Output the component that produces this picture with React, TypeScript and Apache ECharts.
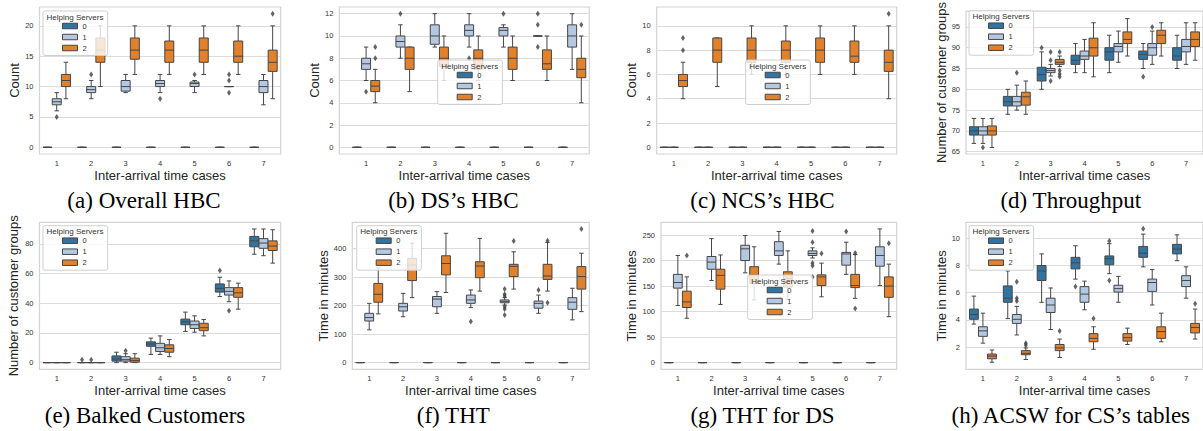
import React, { useEffect, useRef } from "react";
import * as echarts from "echarts";

// ---------- categories / hues ----------
const CATEGORIES = ["1", "2", "3", "4", "5", "6", "7"];
const HUES = ["0", "1", "2"];
const X_TITLE = "Inter-arrival time cases";

// ---------- (a) Overall HBC : [min, Q1, median, Q3, max] ----------
const overallH0 = [[0, 0, 0, 0, 0], [0, 0, 0, 0, 0], [0, 0, 0, 0, 0], [0, 0, 0, 0, 0], [0, 0, 0, 0, 0], [0, 0, 0, 0, 0], [0, 0, 0, 0, 0]];
const overallH1 = [[6, 7, 7.5, 8, 9], [8, 9, 9.5, 10, 11], [9, 9.25, 10, 11, 12], [9, 10, 10.5, 11, 12], [9, 10, 10.5, 10.75, 11], [10, 10, 10, 10, 10], [7, 9, 10, 11, 12]];
const overallH2 = [[8, 10, 11, 12, 14], [10, 14, 16, 18, 20], [12, 14.5, 16, 18, 20], [12, 14, 16, 17.5, 20], [12, 14, 16, 18, 20], [12, 14, 15, 17.5, 20], [8, 12.5, 14, 16, 20]];
// outliers: [case, hue, value]
const overallOut = [[1, 1, 5], [2, 1, 12], [4, 1, 8], [5, 1, 12], [6, 1, 12], [6, 1, 11], [6, 1, 9], [7, 2, 22]];
const overallTicks = [0, 5, 10, 15, 20];

// ---------- (b) DS's HBC ----------
const dsH0 = [[0, 0, 0, 0, 0], [0, 0, 0, 0, 0], [0, 0, 0, 0, 0], [0, 0, 0, 0, 0], [0, 0, 0, 0, 0], [0, 0, 0, 0, 0], [0, 0, 0, 0, 0]];
const dsH1 = [[6, 7, 7.5, 8, 9], [8, 9, 9.5, 10, 11], [9, 9.25, 10, 11, 12], [9, 10, 10.5, 11, 12], [9, 10, 10.5, 10.75, 11], [10, 10, 10, 10, 10], [7, 9, 10, 11, 12]];
const dsH2 = [[4, 5, 5.5, 6, 7], [5, 7, 8, 9, 9], [6, 7.25, 8, 9, 10], [6, 7, 8, 8.75, 10], [6, 7, 8, 9, 10], [6, 7, 7.5, 8.75, 10], [4, 6.25, 7, 8, 10]];
const dsOut = [[1, 1, 5], [1, 2, 9], [1, 2, 8], [2, 1, 12], [4, 1, 8], [5, 1, 12], [6, 1, 12], [6, 1, 11], [6, 1, 9], [7, 2, 11]];
const dsTicks = [0, 2, 4, 6, 8, 10, 12];

// ---------- (c) NCS's HBC ----------
const ncsH0 = [[0, 0, 0, 0, 0], [0, 0, 0, 0, 0], [0, 0, 0, 0, 0], [0, 0, 0, 0, 0], [0, 0, 0, 0, 0], [0, 0, 0, 0, 0], [0, 0, 0, 0, 0]];
const ncsH1 = [[0, 0, 0, 0, 0], [0, 0, 0, 0, 0], [0, 0, 0, 0, 0], [0, 0, 0, 0, 0], [0, 0, 0, 0, 0], [0, 0, 0, 0, 0], [0, 0, 0, 0, 0]];
const ncsH2 = [[4, 5, 5.5, 6, 7], [5, 7, 8, 9, 9], [6, 7, 8, 9, 10], [6, 7, 8, 8.75, 10], [6, 7, 8, 9, 10], [6, 7, 7.5, 8.75, 10], [4, 6.25, 7, 8, 10]];
const ncsOut = [[1, 2, 8], [1, 2, 9], [7, 2, 11]];
const ncsTicks = [0, 2, 4, 6, 8, 10];

// ---------- (d) Throughput ----------
const thrH0 = [[67, 69, 70, 71, 73], [74, 76, 77, 78.3, 80], [80, 82, 83.5, 85.3, 89], [84, 86, 87, 88.2, 91], [84, 87, 89, 90, 93], [85, 87.2, 88.4, 89.2, 91], [85, 87, 88, 90, 93]];
const thrH1 = [[67, 69, 70, 71, 73], [75, 76, 77, 78.3, 81], [83.2, 84, 84.5, 85, 86], [84, 87.2, 88, 89.2, 92], [86.5, 89, 90.3, 91, 94], [86, 88.2, 90, 91, 94], [86, 89, 90.3, 92, 96]];
const thrH2 = [[66, 69, 70, 71.2, 73], [74, 76.2, 78.2, 79.3, 82], [85.5, 86, 86.5, 87.2, 88], [83, 88, 90, 92.3, 96], [88, 91, 92, 93.8, 97], [88, 91, 93, 94.2, 96], [87, 90.3, 92, 93.8, 96]];
const thrOut = [[1, 1, 66], [2, 1, 84], [3, 0, 90], [3, 1, 87], [3, 1, 89], [3, 1, 82], [3, 2, 89], [3, 2, 84.5], [3, 2, 83.7], [3, 2, 83], [6, 0, 83], [6, 1, 95]];
const thrTicks = [65, 70, 75, 80, 85, 90, 95];

// ---------- (e) Balked Customers ----------
const balkH0 = [[0, 0, 0, 0, 0], [0, 0, 0, 0, 0], [0, 1, 2.5, 4.5, 7], [5.5, 11, 12.5, 14, 16.5], [21, 25.5, 27.5, 29.3, 34], [44.5, 47.5, 50, 53, 57.5], [73, 78, 82, 85, 90]];
const balkH1 = [[0, 0, 0, 0, 0], [0, 0, 0, 0, 0], [0, 1, 2, 4, 6], [5.5, 7.5, 10, 13, 18], [20.5, 23, 25.5, 28, 31.5], [41, 45.5, 48, 50.5, 55], [72, 77, 80.5, 83.5, 90]];
const balkH2 = [[0, 0, 0, 0, 0], [0, 0, 0, 0, 0], [0, 0.3, 1.5, 3, 6], [4, 7, 9.5, 12, 15.5], [18, 21.5, 23.5, 26.5, 29], [36, 44, 47, 50.5, 53.5], [67, 75.5, 78.5, 82, 89.5]];
const balkOut = [[2, 0, 2], [2, 1, 2], [3, 1, 8], [6, 0, 62], [6, 1, 35]];
const balkTicks = [0, 20, 40, 60, 80];

// ---------- (f) THT ----------
const thtH0 = [[0, 0, 0, 0, 0], [0, 0, 0, 0, 0], [0, 0, 0, 0, 0], [0, 0, 0, 0, 0], [0, 0, 0, 0, 0], [0, 0, 0, 0, 0], [0, 0, 0, 0, 0]];
const thtH1 = [[115, 146, 158, 173, 208], [161, 181, 196, 208, 243], [173, 196, 223, 232, 249], [193, 208, 220, 237, 255], [202, 210, 215, 220, 228], [173, 191, 208, 216, 237], [150, 187, 212, 228, 261]];
const thtH2 = [[171, 212, 240, 278, 333], [228, 288, 343, 366, 419], [246, 308, 348, 375, 454], [251, 298, 339, 354, 436], [258, 302, 338, 345, 389], [251, 292, 304, 345, 422], [179, 258, 302, 337, 384]];
const thtOut = [[4, 1, 144], [5, 1, 258], [5, 1, 240], [5, 1, 234], [5, 1, 196], [5, 1, 188], [5, 1, 167], [5, 2, 427], [6, 1, 255], [6, 2, 428], [6, 2, 210], [7, 2, 469]];
const thtTicks = [0, 100, 200, 300, 400];

// ---------- (g) THT for DS ----------
const dsThtH0 = [[0, 0, 0, 0, 0], [0, 0, 0, 0, 0], [0, 0, 0, 0, 0], [0, 0, 0, 0, 0], [0, 0, 0, 0, 0], [0, 0, 0, 0, 0], [0, 0, 0, 0, 0]];
const dsThtH1 = [[112, 146, 157, 173, 210], [161, 183, 197, 208, 243], [176, 200, 223, 230, 249], [193, 210, 219, 237, 257], [205, 210, 214, 219, 225], [173, 191, 213, 216, 236], [151, 189, 210, 227, 262]];
const dsThtH2 = [[87, 108, 119, 140, 168], [114, 144, 171, 183, 211], [123, 155, 172, 188, 227], [124, 148, 165, 178, 219], [129, 151, 168, 172, 195], [126, 147, 151, 173, 212], [90, 128, 150, 168, 193]];
const dsThtOut = [[1, 2, 210], [5, 1, 258], [5, 1, 236], [5, 1, 195], [5, 1, 190], [5, 1, 168], [5, 2, 214], [6, 1, 257], [6, 2, 215], [6, 2, 106], [7, 2, 234]];
const dsThtTicks = [0, 50, 100, 150, 200, 250];

// ---------- (h) ACSW for CS's tables ----------
const acswH0 = [[3.7, 4.05, 4.4, 4.8, 5.75], [4.1, 5.3, 5.6, 6.5, 7.6], [5.3, 6.9, 7.6, 8, 8.85], [7, 7.75, 8.2, 8.6, 9.45], [7.4, 8.05, 8.5, 8.7, 9.6], [7.9, 8.6, 8.9, 9.4, 10.3], [8.35, 8.85, 9.2, 9.55, 10.25]];
const acswH1 = [[2.3, 2.8, 3.2, 3.5, 4.5], [2.9, 3.75, 4.05, 4.4, 5], [3.3, 4.55, 5.1, 5.6, 6.35], [4.75, 5.3, 5.9, 6.45, 6.85], [5.3, 6.05, 6.3, 6.55, 7.2], [5.1, 6.1, 6.75, 7, 7.7], [5.6, 6.45, 6.9, 7.25, 7.9]];
const acswH2 = [[0.9, 1.15, 1.35, 1.5, 1.8], [1.1, 1.45, 1.55, 1.75, 1.95], [1.25, 1.75, 1.95, 2.2, 2.6], [1.85, 2.4, 2.65, 3, 3.5], [2.2, 2.45, 2.7, 3, 3.4], [2.4, 2.65, 3.15, 3.5, 4.5], [2.6, 3.05, 3.45, 3.75, 4.8]];
const acswOut = [[2, 1, 6.8], [2, 1, 5.6], [2, 1, 5.4], [2, 2, 2.3], [2, 2, 2.15], [3, 2, 3.2], [4, 0, 6.45], [4, 2, 4.1], [5, 0, 9.8], [5, 0, 6.9], [6, 0, 10.7], [7, 2, 5.2]];
const acswTicks = [2, 4, 6, 8, 10];

// ---------- styles ----------
const HUE_COLORS = ["#3274a1", "#b5c8e1", "#e1812c"];
const EDGE = "#464646";
const LW = 1;
const HUE_OFFSET = [-0.8 / 3, 0, 0.8 / 3];
const BOX_HALF = (0.8 / 3) * 0.98 / 2;
const CAP_HALF = BOX_HALF / 2;
const SANS = "'Liberation Sans', Arial, sans-serif";
const SERIF = "'Liberation Serif', 'Times New Roman', serif";
const TICK_COLOR = "#333";
const TITLE_COLOR = "#262626";

// ---------- layout ----------
const PANELS = [
  { boxes: [overallH0, overallH1, overallH2], out: overallOut, ticks: overallTicks, yName: "Count", caption: "(a) Overall HBC",
    grid: { left: 39.5, top: 7, width: 241.2, height: 147 }, xMin: -0.5, yMin: -1.1, yMax: 23.1, nameGap: 18,
    legend: { left: 43, top: 11 }, cap: { x: 144, y: 200 } },
  { boxes: [dsH0, dsH1, dsH2], out: dsOut, ticks: dsTicks, yName: "Count", caption: "(b) DS\u2019s HBC",
    grid: { left: 339.3, top: 7, width: 250, height: 147 }, xMin: -0.78, yMin: -0.6, yMax: 12.6, nameGap: 9.5,
    legend: { left: 437.7, top: 60 }, cap: { x: 453.3, y: 200 } },
  { boxes: [ncsH0, ncsH1, ncsH2], out: ncsOut, ticks: ncsTicks, yName: "Count", caption: "(c) NCS\u2019s HBC",
    grid: { left: 656.7, top: 7, width: 240, height: 147 }, xMin: -0.5, yMin: -0.55, yMax: 11.55, nameGap: 18.5,
    legend: { left: 745.7, top: 60 }, cap: { x: 762.5, y: 200 } },
  { boxes: [thrH0, thrH1, thrH2], out: thrOut, ticks: thrTicks, yName: "Number of customer groups", caption: "(d) Throughput",
    grid: { left: 966, top: 7, width: 240.8, height: 147 }, xMin: -0.5, yMin: 64.45, yMax: 98.8, nameGap: 18,
    legend: { left: 969, top: 10.7 }, cap: { x: 1070.8, y: 200 } },
  { boxes: [balkH0, balkH1, balkH2], out: balkOut, ticks: balkTicks, yName: "Number of customer groups", caption: "(e) Balked Customers",
    grid: { left: 39.5, top: 222.3, width: 241.2, height: 147 }, xMin: -0.5, yMin: -4.5, yMax: 94.5, nameGap: 19.7,
    legend: { left: 43, top: 225.7 }, cap: { x: 145, y: 415.3 } },
  { boxes: [thtH0, thtH1, thtH2], out: thtOut, ticks: thtTicks, yName: "Time in minutes", caption: "(f) THT",
    grid: { left: 352.3, top: 222.3, width: 237, height: 147 }, xMin: -0.5, yMin: -23.5, yMax: 492.5, nameGap: 21.6,
    legend: { left: 356.7, top: 225.7 }, cap: { x: 453.3, y: 415.3 } },
  { boxes: [dsThtH0, dsThtH1, dsThtH2], out: dsThtOut, ticks: dsThtTicks, yName: "Time in minutes", caption: "(g) THT for DS",
    grid: { left: 661, top: 222.3, width: 235.7, height: 147 }, xMin: -0.5, yMin: -13.1, yMax: 275, nameGap: 22.8,
    legend: { left: 747.7, top: 275 }, cap: { x: 762.5, y: 415.3 } },
  { boxes: [acswH0, acswH1, acswH2], out: acswOut, ticks: acswTicks, yName: "Time in minutes", caption: "(h) ACSW for CS\u2019s tables",
    grid: { left: 966, top: 222.3, width: 240.8, height: 147 }, xMin: -0.5, yMin: 0.38, yMax: 11.17, nameGap: 18.5,
    legend: { left: 969, top: 225.7 }, cap: { x: 1070.8, y: 415.3 } },
];

function boxRenderer(hue: number) {
  return function (_params: any, api: any) {
    const c = api.value(0) + HUE_OFFSET[hue];
    const mn = api.value(1), q1 = api.value(2), md = api.value(3), q3 = api.value(4), mx = api.value(5);
    const p = (x: number, y: number) => api.coord([x, y]);
    const a = p(c - BOX_HALF, q3);
    const b = p(c + BOX_HALF, q1);
    const top = p(c, mx), q3p = p(c, q3), q1p = p(c, q1), bot = p(c, mn);
    const capL = p(c - CAP_HALF, mx)[0], capR = p(c + CAP_HALF, mx)[0];
    const med = p(c, md)[1];
    const st = { stroke: EDGE, lineWidth: LW };
    const line = (x1: number, y1: number, x2: number, y2: number) => ({ type: "line", shape: { x1, y1, x2, y2 }, style: st });
    return {
      type: "group",
      children: [
        line(top[0], top[1], q3p[0], q3p[1]),
        line(bot[0], bot[1], q1p[0], q1p[1]),
        line(capL, top[1], capR, top[1]),
        line(capL, bot[1], capR, bot[1]),
        { type: "rect", shape: { x: a[0], y: a[1], width: b[0] - a[0], height: b[1] - a[1] }, style: { fill: HUE_COLORS[hue], stroke: EDGE, lineWidth: LW } },
        line(a[0], med, b[0], med),
      ],
    };
  };
}

function buildOption() {
  const grids: any[] = [];
  const xAxes: any[] = [];
  const yAxes: any[] = [];
  const series: any[] = [];
  const legends: any[] = [];
  const graphics: any[] = [];
  const catIdx = CATEGORIES.map((_, i) => i);

  PANELS.forEach((pn, i) => {
    grids.push({ ...pn.grid, show: true, borderColor: "#d3d3d3", borderWidth: 1.2, containLabel: false });
    xAxes.push({
      type: "value", gridIndex: i, min: pn.xMin, max: 6.5,
      axisLabel: { customValues: catIdx, formatter: (v: number) => CATEGORIES[Math.round(v)], fontSize: 7.5, color: TICK_COLOR, margin: 5, fontFamily: SANS },
      axisTick: { show: false }, axisLine: { show: false }, splitLine: { show: false },
      name: X_TITLE, nameLocation: "middle", nameGap: 14.5,
      nameTextStyle: { fontSize: 13, color: TITLE_COLOR, fontFamily: SANS },
    });
    yAxes.push({
      type: "value", gridIndex: i, min: pn.yMin, max: pn.yMax,
      axisLabel: { customValues: pn.ticks, fontSize: 7.5, color: TICK_COLOR, margin: 6, fontFamily: SANS },
      axisTick: { show: false, customValues: pn.ticks }, axisLine: { show: false },
      splitLine: { show: true, lineStyle: { color: "#dcdcdc", width: 1 } },
      name: pn.yName, nameLocation: "middle", nameGap: pn.nameGap,
      nameTextStyle: { fontSize: 13, color: TITLE_COLOR, fontFamily: SANS },
    });
    pn.boxes.forEach((arr, h) => {
      series.push({
        type: "custom", name: HUES[h], xAxisIndex: i, yAxisIndex: i,
        renderItem: boxRenderer(h),
        encode: { x: 0, y: [1, 2, 3, 4, 5] },
        itemStyle: { color: HUE_COLORS[h], borderColor: EDGE, borderWidth: 1 },
        data: arr.map((b, k) => [k, ...b]),
        z: 2, silent: true,
      });
    });
    series.push({
      type: "scatter", name: "outliers", xAxisIndex: i, yAxisIndex: i,
      data: pn.out.map(([cat, hue, v]) => [cat - 1 + HUE_OFFSET[hue], v]),
      symbol: "diamond", symbolSize: [4, 6],
      itemStyle: { color: "#3f3f3f" }, z: 3, silent: true,
    });
    legends.push({
      orient: "vertical", left: pn.legend.left, top: pn.legend.top,
      data: HUES.map((h, k) => ({ name: h, itemStyle: { color: HUE_COLORS[k], borderColor: EDGE, borderWidth: 1 } })),
      icon: "rect", itemWidth: 15, itemHeight: 5.5, itemGap: 2,
      padding: [10.5, 21, 3, 19],
      backgroundColor: "rgba(255,255,255,0.8)", borderColor: "#cfcfcf", borderWidth: 1, borderRadius: 2,
      textStyle: { fontSize: 7.5, color: TICK_COLOR, fontFamily: SANS, lineHeight: 9 },
      selectedMode: false, z: 10,
    });
    graphics.push({
      type: "text", x: pn.legend.left + 32, y: pn.legend.top + 6, z: 100, silent: true,
      style: { text: "Helping Servers", fontSize: 8, fontFamily: SANS, fill: TICK_COLOR, align: "center", verticalAlign: "middle" },
    });
    graphics.push({
      type: "text", x: pn.cap.x, y: pn.cap.y, z: 100, silent: true,
      style: { text: pn.caption, fontSize: 23, fontFamily: SERIF, fill: "#000", align: "center", verticalAlign: "middle" },
    });
  });

  return {
    animation: false,
    backgroundColor: "#fff",
    grid: grids,
    xAxis: xAxes,
    yAxis: yAxes,
    legend: legends,
    series,
    graphic: { elements: graphics },
  };
}

export default function App() {
  const ref = useRef<HTMLDivElement>(null);
  useEffect(() => {
    if (!ref.current) return;
    const chart = echarts.init(ref.current, undefined, { renderer: "svg" });
    chart.setOption(buildOption() as any);
    return () => chart.dispose();
  }, []);
  return <div ref={ref} style={{ position: "absolute", left: 0, top: 0, width: 1203, height: 431, background: "#fff" }} />;
}
